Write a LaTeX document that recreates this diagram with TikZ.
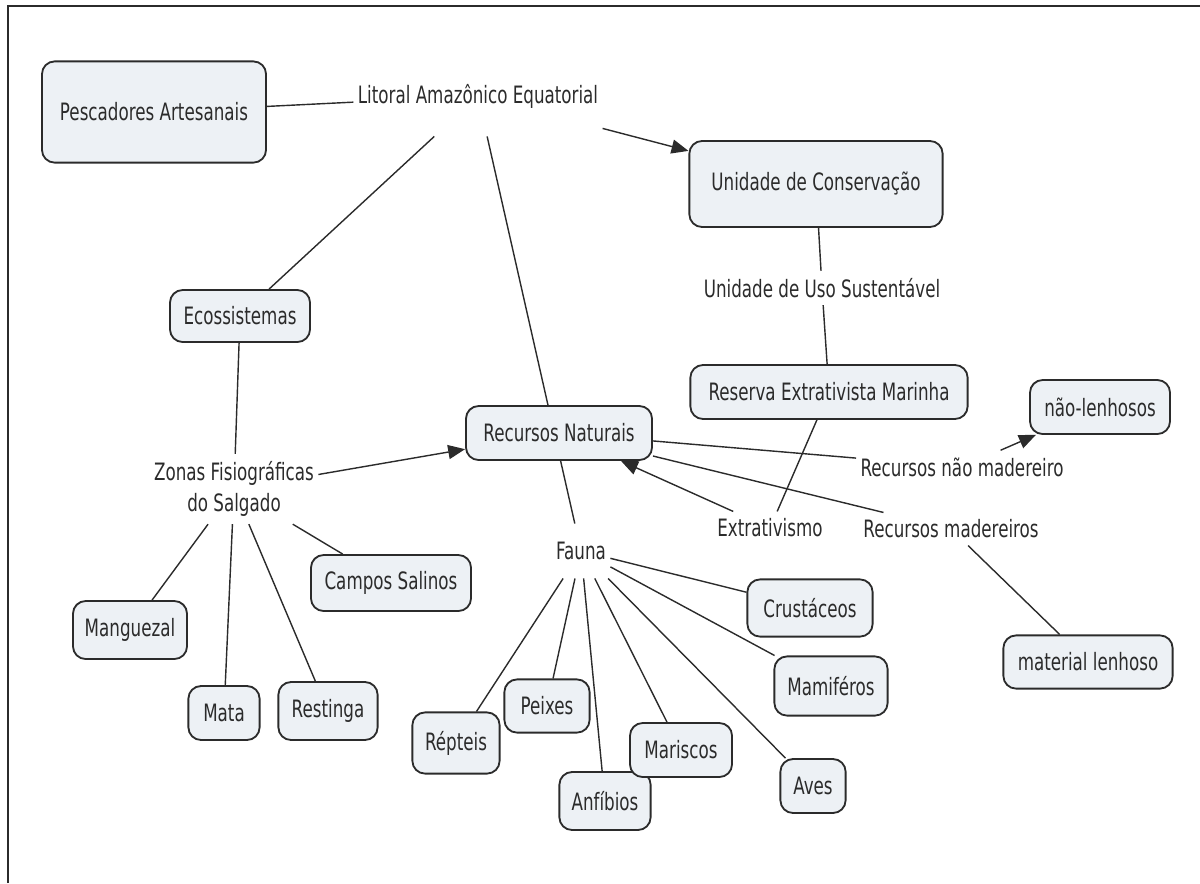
\documentclass[tikz,border=0pt]{standalone}
\usepackage{fontspec}
\setmainfont{DejaVu Sans}[FakeStretch=0.7]
\usetikzlibrary{arrows.meta,backgrounds}
\definecolor{boxfill}{HTML}{EDF1F5}
\definecolor{ink}{HTML}{2B2B2B}
\tikzset{
	concept/.style={draw=ink, fill=boxfill, line width=1.3pt, rounded corners=9pt, inner sep=0pt, text=ink},
	phrase/.style={inner xsep=3pt, inner ysep=5pt, text=ink, align=center},
	link/.style={draw=ink, line width=1pt},
	linkarrow/.style={link, -{Triangle[length=12pt,width=10pt]}}
}
\begin{document}
\begin{tikzpicture}[x=0.025cm, y=-0.025cm, font=\fontsize{17}{22.5}\selectfont]
				\useasboundingbox (0,0) rectangle (1200,883);
				\draw [ink, line width=1.5pt] (8,883) -- (8,6) -- (1200,6);
				
				\node [concept, minimum width=5.6cm, minimum height=2.53cm] (pesc) at (154,112) {Pescadores Artesanais};
				\node [phrase, inner ysep=20pt] (lit) at (478,96) {Litoral Amazônico Equatorial};
				\node [concept, minimum width=6.33cm, minimum height=2.15cm] (ucons) at (816,184) {Unidade de Conservação};
				\node [concept, minimum width=3.5cm, minimum height=1.3cm] (ecos) at (240,316) {Ecossistemas};
				\node [phrase] (zonas) at (234,489) {Zonas Fisiográficas\\do Salgado};
				\node [concept, minimum width=4.65cm, minimum height=1.35cm] (recnat) at (559,433) {Recursos Naturais};
				%	zonas
				\node [concept, minimum width=4cm, minimum height=1.4cm] (campos) at (391,583) {Campos Salinos};
				\node [concept, minimum width=2.85cm, minimum height=1.45cm] (mang) at (130,630) {Manguezal};
				\node [concept, minimum width=1.78cm, minimum height=1.35cm] (mata) at (224,713) {Mata};
				\node [concept, minimum width=2.48cm, minimum height=1.45cm] (rest) at (328,711) {Restinga};
				%	fauna
				\node [phrase, inner ysep=13pt] (fauna) at (581,551) {Fauna};
				\node [concept, minimum width=2.18cm, minimum height=1.53cm] (rept) at (456,743) {Répteis};
				\node [concept, minimum width=2.13cm, minimum height=1.33cm] (peix) at (547,706) {Peixes};
				\node [concept, minimum width=2.28cm, minimum height=1.45cm] (anfi) at (605,801) {Anfíbios};
				\node [concept, minimum width=2.55cm, minimum height=1.35cm] (maris) at (681,750) {Mariscos};
				\node [concept, minimum width=1.63cm, minimum height=1.35cm] (aves) at (813,786) {Aves};
				\node [concept, minimum width=2.83cm, minimum height=1.48cm] (mamif) at (831,686) {Mamiféros};
				\node [concept, minimum width=3.13cm, minimum height=1.43cm] (crust) at (810,608) {Crustáceos};
				%	reserva
				\node [phrase] (uso) at (822,288) {Unidade de Uso Sustentável};
				\node [concept, minimum width=6.93cm, minimum height=1.35cm] (resex) at (829,392) {Reserva Extrativista Marinha};
				\node [phrase] (extr) at (770,528) {Extrativismo};
				\node [phrase] (naomad) at (962,467) {Recursos não madereiro};
				\node [concept, minimum width=3.5cm, minimum height=1.35cm] (naolen) at (1100,407) {não-lenhosos};
				\node [phrase] (mad) at (951,529) {Recursos madereiros};
				\node [concept, minimum width=4.23cm, minimum height=1.33cm] (lenh) at (1088,662) {material lenhoso};
				
				\begin{scope}[on background layer]
					\draw [link] (pesc) -- (lit);
					\draw [linkarrow] (lit) -- (ucons);
					\draw [link] (lit) -- (ecos);
					\draw [link] (lit) -- (fauna);
					\draw [link] (ecos) -- (zonas);
					\draw [linkarrow] (zonas) -- (recnat);
					\foreach \z in {mang,mata,rest,campos}
						\draw [link] (zonas) -- (\z);
					\foreach \f in {rept,peix,anfi,maris,aves,mamif,crust}
						\draw [link] (fauna) -- (\f);
					\draw [link] (ucons) -- (uso);
					\draw [link] (uso) -- (resex);
					\draw [link] (resex) -- (extr);
					\draw [linkarrow] (extr) -- (recnat);
					\draw [link] (recnat) -- (naomad);
					\draw [linkarrow] (naomad) -- (naolen);
					\draw [link] (recnat) -- (mad);
					\draw [link] (mad) -- (lenh);
				\end{scope}
			\end{tikzpicture}
\end{document}
